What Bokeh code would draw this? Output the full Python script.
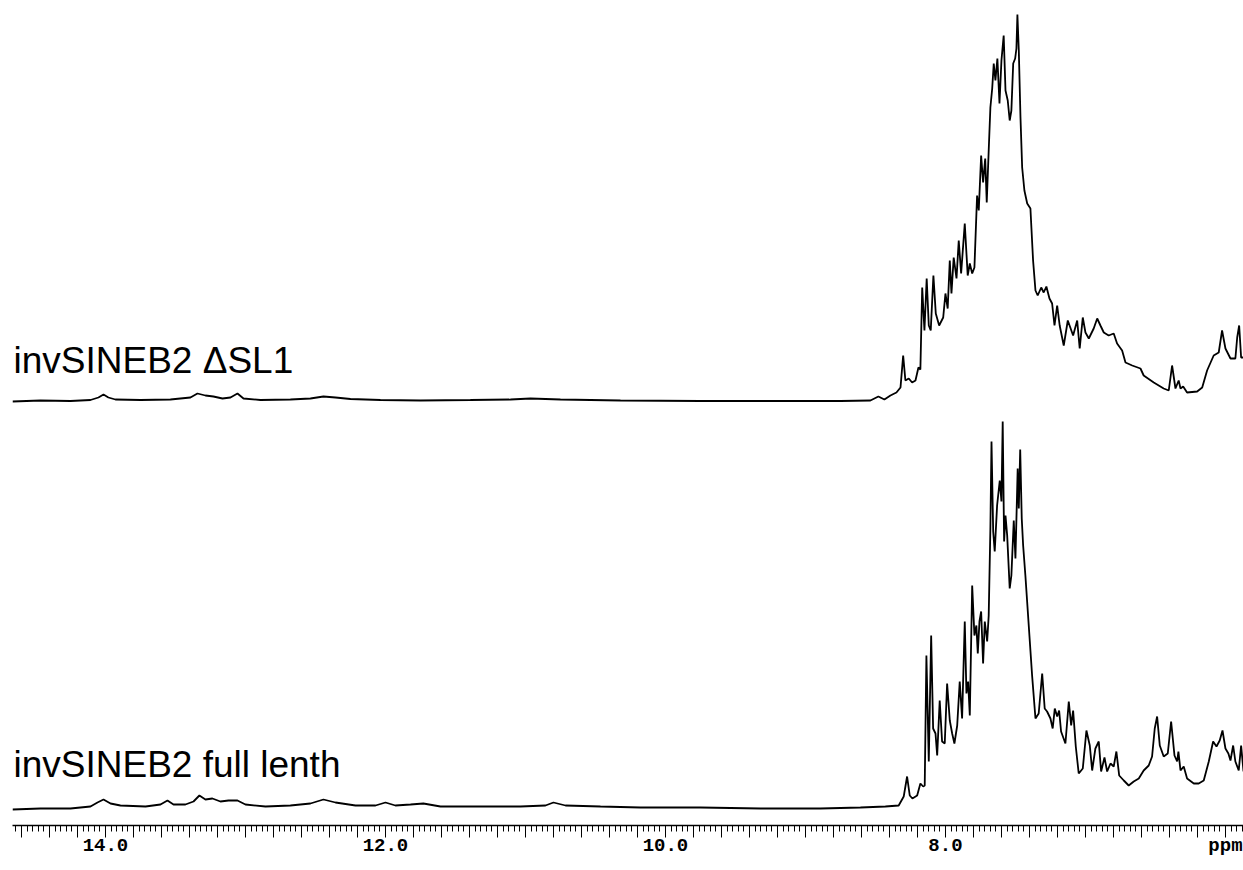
from bokeh.plotting import figure
from bokeh.models import Range1d, FixedTicker, Label, ColumnDataSource
from bokeh.embed import file_html
from bokeh.resources import INLINE

# ---------------- data ----------------
# chemical shift (ppm) and relative intensity (a.u.) of the upper spectrum
top_ppm = [14.664, 14.464, 14.25, 14.107, 14.05, 14.014, 13.979, 13.929, 13.75, 13.536,
           13.393, 13.343, 13.286, 13.229, 13.164, 13.107, 13.057, 13.014, 12.893, 12.679,
           12.536, 12.443, 12.357, 12.25, 12.036, 11.75, 11.393, 11.107, 10.964, 10.75,
           10.321, 9.75, 9.179, 8.75, 8.536, 8.479, 8.436, 8.393, 8.35, 8.321,
           8.302, 8.286, 8.262, 8.238, 8.214, 8.193, 8.179, 8.166, 8.15, 8.134,
           8.119, 8.105, 8.086, 8.069, 8.045, 8.016, 8.0, 7.984, 7.969, 7.957,
           7.941, 7.921, 7.905, 7.888, 7.862, 7.841, 7.826, 7.809, 7.793, 7.774,
           7.762, 7.745, 7.731, 7.716, 7.705, 7.691, 7.679, 7.666, 7.655, 7.643,
           7.629, 7.614, 7.6, 7.584, 7.571, 7.555, 7.541, 7.529, 7.516, 7.502,
           7.493, 7.486, 7.476, 7.464, 7.452, 7.436, 7.416, 7.393, 7.374, 7.357,
           7.341, 7.316, 7.298, 7.279, 7.257, 7.238, 7.221, 7.202, 7.184, 7.155,
           7.126, 7.088, 7.059, 7.041, 7.019, 7.0, 6.976, 6.941, 6.916, 6.893,
           6.869, 6.834, 6.798, 6.774, 6.738, 6.714, 6.666, 6.607, 6.584, 6.512,
           6.441, 6.405, 6.381, 6.357, 6.334, 6.321, 6.302, 6.274, 6.202, 6.166,
           6.131, 6.084, 6.048, 6.024, 6.0, 5.964, 5.929, 5.916, 5.902, 5.888,
           5.871]
top_int = [0, 1, 0.5, 1.5, 4, 7, 4, 2, 1.5, 2,
           4, 8, 6, 5, 3, 4, 8, 3, 1.5, 2,
           3, 5, 4, 2.5, 1.5, 1, 1.5, 2, 3, 2,
           1, 0.5, 0.5, 0.5, 1, 5, 2, 6, 9, 14,
           46, 21, 23, 19, 21, 34, 32, 114, 71, 123,
           76, 71, 126, 88, 76, 84, 108, 93, 141, 108,
           144, 123, 161, 128, 178, 126, 138, 128, 134, 206,
           191, 246, 219, 243, 199, 251, 294, 313, 338, 321,
           343, 298, 341, 366, 311, 301, 281, 291, 338, 343,
           353, 387, 351, 284, 234, 211, 198, 193, 141, 111,
           106, 114, 109, 115, 103, 98, 76, 96, 76, 56,
           81, 66, 81, 53, 84, 69, 63, 73, 83, 76,
           69, 66, 68, 58, 51, 39, 36, 33, 26, 19,
           13, 11, 36, 13, 21, 13, 15, 9, 10, 14,
           31, 46, 49, 71, 53, 43, 43, 64, 76, 44,
           44]

# chemical shift (ppm) and relative intensity (a.u.) of the lower spectrum
bot_ppm = [14.664, 14.464, 14.25, 14.107, 14.057, 14.014, 13.964, 13.893, 13.714, 13.607,
           13.557, 13.514, 13.429, 13.371, 13.329, 13.286, 13.236, 13.179, 13.121, 13.057,
           13.0, 12.857, 12.679, 12.536, 12.443, 12.357, 12.214, 12.071, 12.0, 11.929,
           11.821, 11.729, 11.607, 11.321, 11.036, 10.857, 10.8, 10.714, 10.464, 10.179,
           9.75, 9.321, 8.893, 8.607, 8.429, 8.334, 8.298, 8.274, 8.255, 8.236,
           8.202, 8.179, 8.159, 8.148, 8.136, 8.119, 8.102, 8.088, 8.071, 8.059,
           8.041, 8.024, 8.005, 7.988, 7.969, 7.952, 7.936, 7.916, 7.898, 7.881,
           7.862, 7.85, 7.838, 7.826, 7.809, 7.793, 7.779, 7.769, 7.757, 7.745,
           7.731, 7.719, 7.702, 7.691, 7.679, 7.671, 7.659, 7.648, 7.631, 7.612,
           7.6, 7.591, 7.581, 7.571, 7.559, 7.541, 7.529, 7.512, 7.5, 7.484,
           7.476, 7.466, 7.455, 7.445, 7.429, 7.405, 7.381, 7.357, 7.334, 7.309,
           7.291, 7.274, 7.25, 7.234, 7.219, 7.202, 7.188, 7.174, 7.143, 7.119,
           7.102, 7.088, 7.069, 7.048, 7.019, 6.993, 6.969, 6.952, 6.929, 6.905,
           6.888, 6.864, 6.845, 6.821, 6.798, 6.779, 6.759, 6.726, 6.691, 6.655,
           6.619, 6.584, 6.548, 6.524, 6.505, 6.488, 6.469, 6.441, 6.412, 6.388,
           6.364, 6.345, 6.336, 6.321, 6.298, 6.274, 6.226, 6.191, 6.155, 6.119,
           6.088, 6.064, 6.041, 6.021, 6.0, 5.979, 5.964, 5.945, 5.929, 5.905,
           5.888, 5.871]
bot_int = [-1, 0, 0, 2, 6, 9, 5, 3, 2, 4,
           8, 4, 4, 7, 13, 9, 10, 7, 8, 8,
           4, 2, 3, 5, 9, 6, 3, 3, 6, 3,
           4, 5, 2, 2, 2, 3, 6, 3, 2, 1,
           1, 0, 0, 1, 2, 3, 12, 32, 13, 10,
           13, 25, 22, 23, 153, 47, 173, 80, 75, 53,
           108, 67, 65, 125, 88, 75, 65, 83, 127, 90,
           187, 115, 127, 93, 223, 173, 183, 155, 187, 197,
           145, 187, 167, 193, 280, 367, 277, 257, 303, 328,
           307, 387, 267, 293, 273, 220, 233, 288, 250, 340,
           300, 359, 290, 263, 233, 183, 133, 90, 95, 135,
           100, 97, 90, 80, 100, 92, 98, 77, 65, 107,
           83, 98, 62, 35, 40, 78, 63, 38, 60, 67,
           37, 51, 37, 45, 42, 57, 33, 28, 23, 27,
           30, 38, 43, 52, 80, 92, 63, 52, 55, 87,
           53, 47, 57, 38, 42, 30, 25, 25, 28, 47,
           67, 62, 68, 78, 60, 55, 48, 63, 47, 38,
           63, 37]

top_name = "invSINEB2 \u0394SL1"
bot_name = "invSINEB2 full lenth"

label_ticks = [14.0, 12.0, 10.0, 8.0]
label_texts = ["14.0", "12.0", "10.0", "8.0"]
unit_tick = 6.0
unit_text = "ppm"

# ---------------- layout ----------------
TOP_OFFSET = 424   # vertical stacking offset of the upper trace
BOT_OFFSET = 17    # vertical stacking offset of the lower trace

p = figure(frame_width=1231, frame_height=817,
           min_border_left=12, min_border_right=0, min_border_top=8, min_border_bottom=37,
           x_range=Range1d(14.664, 5.871), y_range=Range1d(0, 817),
           y_axis_location=None, output_backend="svg", toolbar_location=None)
p.grid.visible = False
p.outline_line_color = None
p.background_fill_color = "white"
p.border_fill_color = "white"

top_src = ColumnDataSource(dict(x=top_ppm, y=[v + TOP_OFFSET for v in top_int]))
bot_src = ColumnDataSource(dict(x=bot_ppm, y=[v + BOT_OFFSET for v in bot_int]))
p.line("x", "y", source=top_src, line_color="black", line_width=1.8)
p.line("x", "y", source=bot_src, line_color="black", line_width=1.8)

p.add_layout(Label(x=14.657, y=465, text=top_name, text_font="Liberation Sans",
                   text_font_size="37px", text_color="black", text_baseline="alphabetic"))
p.add_layout(Label(x=14.657, y=61, text=bot_name, text_font="Liberation Sans",
                   text_font_size="37px", text_color="black", text_baseline="alphabetic"))

major = [round(5.8 + 0.2 * i, 1) for i in range(45)]
minor = [round(5.84 + 0.04 * i, 2) for i in range(222)]
ax = p.xaxis[0]
ax.ticker = FixedTicker(ticks=major, minor_ticks=minor)
overrides = {t: "" for t in major}
for t, s in zip(label_ticks, label_texts):
    overrides[t] = s
overrides[unit_tick] = unit_text
ax.major_label_overrides = overrides
ax.axis_line_color = "black"
ax.axis_line_width = 1.5
ax.major_tick_line_color = "black"
ax.minor_tick_line_color = "black"
ax.major_tick_line_width = 1
ax.minor_tick_line_width = 1
ax.major_tick_in = 0
ax.major_tick_out = 12
ax.minor_tick_in = 0
ax.minor_tick_out = 6
ax.major_label_standoff = -3
ax.major_label_text_font = "Liberation Mono"
ax.major_label_text_font_style = "bold"
ax.major_label_text_font_size = "19px"
ax.major_label_text_color = "black"

open("out.html", "w").write(file_html(p, INLINE))
